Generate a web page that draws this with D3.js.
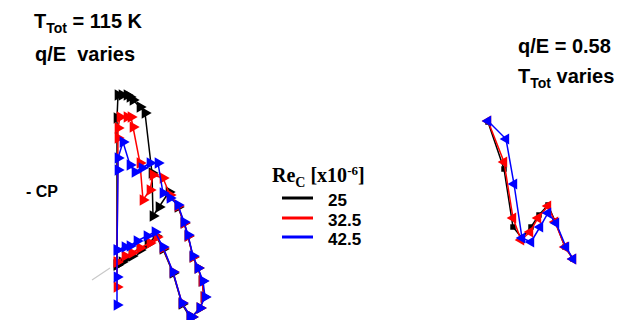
<!DOCTYPE html>
<html>
<head>
<meta charset="utf-8">
<script src="https://cdn.jsdelivr.net/npm/d3@7"></script>
<style>
  html, body { margin: 0; padding: 0; background: #fff; }
  svg { display: block; }
  .sans { font-family: "Liberation Sans", Arial, sans-serif; font-weight: bold; fill: #000; }
  .serif { font-family: "Liberation Serif", "Times New Roman", serif; font-weight: bold; fill: #000; }
</style>
</head>
<body>
<svg id="chart" width="631" height="320"></svg>
<script>
// Reynolds numbers (x10^-6) and their colours
const reynolds = ["25", "32.5", "42.5"];
const colors = ["#000000", "#ff0000", "#0000ff"];

// Left panel: T_Tot = 115 K, q/E varies. [x/c, -Cp]
const leftUpper25 = [[0,0.55],[0,2.02],[0.01,2.25],[0.05,2.25],[0.10,2.25],[0.13,2.23],[0.16,2.20],[0.23,2.13],[0.28,2.07],[0.35,1.47],[0.36,1.04],[0.42,1.13],[0.52,1.28],[0.61,1.13],[0.67,0.97],[0.71,0.84],[0.76,0.63],[0.81,0.52],[0.85,0.39],[0.87,0.23],[0.83,0.12],[0.75,0.03]];
const leftLower25 = [[0,0.55],[0.05,0.58],[0.10,0.62],[0.15,0.64],[0.23,0.70],[0.31,0.76],[0.39,0.84],[0.46,0.71],[0.56,0.47],[0.65,0.16],[0.73,0.03]];
const leftUpper325 = [[0,0.33],[0,0.58],[0.01,1.82],[0.01,1.92],[0.03,2.03],[0.10,2.03],[0.14,2.03],[0.16,1.93],[0.23,1.57],[0.26,1.20],[0.33,1.30],[0.36,1.45],[0.46,1.42],[0.53,1.25],[0.61,1.14],[0.67,0.97],[0.71,0.84],[0.76,0.63],[0.81,0.52],[0.85,0.39],[0.87,0.23],[0.83,0.12],[0.75,0.03]];
const leftLower325 = [[0,0.58],[0.08,0.64],[0.15,0.67],[0.23,0.72],[0.33,0.77],[0.40,0.83],[0.46,0.72],[0.56,0.48],[0.65,0.17],[0.73,0.04]];
const leftUpper425 = [[0,0.15],[0,0.43],[0,0.70],[0.01,1.50],[0.01,1.62],[0.06,1.78],[0.13,1.55],[0.18,1.48],[0.25,1.52],[0.33,1.57],[0.41,1.57],[0.46,1.27],[0.53,1.22],[0.61,1.15],[0.67,0.98],[0.71,0.85],[0.76,0.64],[0.81,0.52],[0.86,0.39],[0.88,0.23],[0.83,0.12],[0.75,0.03]];
const leftLower425 = [[0,0.70],[0.08,0.73],[0.13,0.74],[0.20,0.79],[0.30,0.84],[0.38,0.88],[0.46,0.73],[0.56,0.48],[0.65,0.17],[0.73,0.04]];

// Right panel: q/E = 0.58, T_Tot varies. [x/c, -Cp]
const right25 = [[0,1.98],[0.16,1.51],[0.25,0.93],[0.34,0.82],[0.43,0.93],[0.51,1.05],[0.60,1.15],[0.67,0.99],[0.77,0.73],[0.85,0.61]];
const right325 = [[0,1.99],[0.16,1.58],[0.25,1.02],[0.33,0.80],[0.42,0.88],[0.50,1.02],[0.60,1.14],[0.67,0.98],[0.77,0.73],[0.85,0.61]];
const right425 = [[0,1.99],[0.18,1.81],[0.26,1.36],[0.34,0.82],[0.43,0.78],[0.52,0.93],[0.60,1.07],[0.68,0.97],[0.78,0.73],[0.85,0.61]];

const svg = d3.select("#chart");

// scales
const xL = d3.scaleLinear().domain([0, 1]).range([117, 217]);
const xR = d3.scaleLinear().domain([0, 1]).range([488, 588]);
const y = d3.scaleLinear().domain([0, 2.5]).range([320, 70]);

// short grey reference stroke near the leading edge
svg.append("line")
  .attr("x1", xL(-0.25)).attr("y1", y(0.40))
  .attr("x2", xL(-0.07)).attr("y2", y(0.52))
  .attr("stroke", "#c8c8c8").attr("stroke-width", 1.2);

const line = (xs) => d3.line().x(d => xs(d[0])).y(d => y(d[1]));

function drawSeries(g, data, xs, color, symbolType, rotate, size) {
  g.append("path")
    .datum(data)
    .attr("d", line(xs))
    .attr("fill", "none")
    .attr("stroke", color)
    .attr("stroke-width", 1.5);
  g.selectAll(null)
    .data(data)
    .enter().append("path")
    .attr("d", d3.symbol().type(symbolType).size(size))
    .attr("transform", d => `translate(${xs(d[0])},${y(d[1])}) rotate(${rotate})`)
    .attr("fill", color);
}

const leftSets = [[leftUpper25, leftLower25], [leftUpper325, leftLower325], [leftUpper425, leftLower425]];
const rightSets = [right25, right325, right425];

const gL = svg.append("g");
leftSets.forEach((pair, i) => {
  pair.forEach(s => drawSeries(gL, s, xL, colors[i], d3.symbolTriangle, 90, 58));
});

const gR = svg.append("g");
rightSets.forEach((s, i) => {
  if (i === 0) drawSeries(gR, s, xR, colors[i], d3.symbolSquare, 0, 30);
  else drawSeries(gR, s, xR, colors[i], d3.symbolTriangle, -90, 52);
});

// annotations
const t1 = svg.append("text").attr("class", "sans").attr("x", 34).attr("y", 28).style("font-size", "20px");
t1.append("tspan").text("T");
t1.append("tspan").attr("dy", 5).style("font-size", "14px").text("Tot");
t1.append("tspan").attr("dy", -5).text(" = 115 K");
svg.append("text").attr("class", "sans").attr("x", 35).attr("y", 61).style("font-size", "20px")
  .attr("xml:space", "preserve").style("white-space", "pre").text("q/E  varies");

svg.append("text").attr("class", "sans").attr("x", 518).attr("y", 53).style("font-size", "20px").text("q/E = 0.58");
const t2 = svg.append("text").attr("class", "sans").attr("x", 518).attr("y", 83).style("font-size", "20px");
t2.append("tspan").text("T");
t2.append("tspan").attr("dy", 5).style("font-size", "14px").text("Tot");
t2.append("tspan").attr("dy", -5).text(" varies");

svg.append("text").attr("class", "sans").attr("x", 26).attr("y", 197).style("font-size", "16px").text("- CP");

// legend
const lt = svg.append("text").attr("class", "serif").attr("x", 272).attr("y", 182).style("font-size", "20px");
lt.append("tspan").text("Re");
lt.append("tspan").attr("dy", 5).style("font-size", "14px").text("C");
lt.append("tspan").attr("dy", -5).text(" [x10");
lt.append("tspan").attr("dy", -7).style("font-size", "13px").text("-6");
lt.append("tspan").attr("dy", 7).text("]");

const legY = [198, 218, 237];
reynolds.forEach((r, i) => {
  svg.append("line")
    .attr("x1", 282).attr("x2", 313)
    .attr("y1", legY[i]).attr("y2", legY[i])
    .attr("stroke", colors[i]).attr("stroke-width", 3);
  svg.append("text").attr("class", "sans")
    .attr("x", 328).attr("y", legY[i] + 8)
    .style("font-size", "17px").text(r);
});
</script>
</body>
</html>
